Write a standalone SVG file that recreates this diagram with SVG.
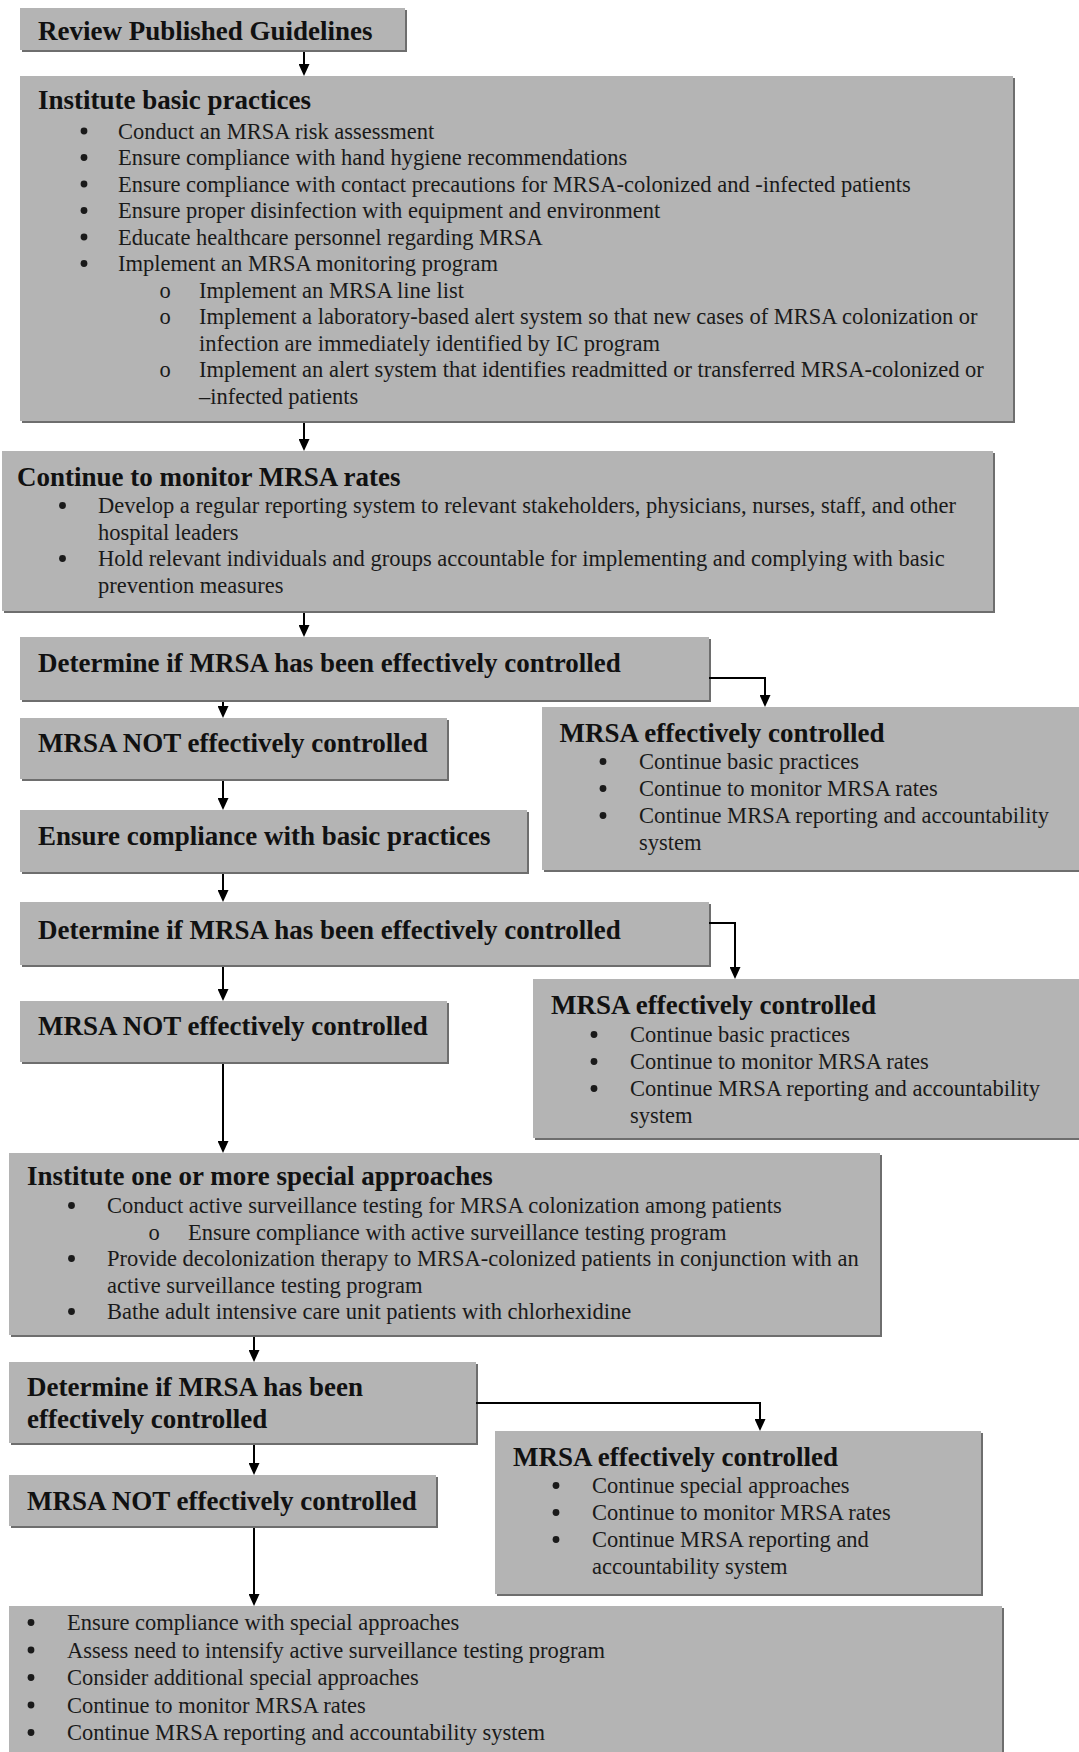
<svg xmlns="http://www.w3.org/2000/svg" width="1079" height="1752" viewBox="0 0 1079 1752">
<defs>
<style>
.sh{fill:#6e6e6e}
.bx{fill:#b4b4b4}
.t{font-family:"Liberation Serif","Times New Roman",serif;font-size:27px;font-weight:bold;fill:#111}
.b{font-family:"Liberation Serif","Times New Roman",serif;font-size:22.5px;fill:#1a1a1a}
.o{font-family:"Liberation Serif","Times New Roman",serif;font-size:22.5px;fill:#1a1a1a;text-anchor:middle}
.dot{fill:#1a1a1a}
.ln{fill:none;stroke:#000;stroke-width:2;marker-end:url(#ah)}
</style>
<marker id="ah" viewBox="0 0 12 11" refX="7" refY="5.5" markerWidth="12" markerHeight="11" markerUnits="userSpaceOnUse" orient="auto">
<path d="M0,0 L12,5.5 L0,11 z" fill="#000"/>
</marker>
</defs>
<rect width="1079" height="1752" fill="#fff"/>

<g id="n1">
<rect class="sh" x="22" y="10" width="385" height="42"/>
<rect class="bx" x="20" y="8" width="385" height="42"/>
<text class="t" x="38" y="40">Review Published Guidelines</text>
</g>

<g id="n2">
<rect class="sh" x="22" y="78" width="993" height="345"/>
<rect class="bx" x="20" y="76" width="993" height="345"/>
<text class="t" x="38" y="109">Institute basic practices</text>
<circle class="dot" cx="84" cy="131" r="3.4"/><text class="b" x="118" y="138.5">Conduct an MRSA risk assessment</text>
<circle class="dot" cx="84" cy="157.5" r="3.4"/><text class="b" x="118" y="165">Ensure compliance with hand hygiene recommendations</text>
<circle class="dot" cx="84" cy="184" r="3.4"/><text class="b" x="118" y="191.5">Ensure compliance with contact precautions for MRSA-colonized and -infected patients</text>
<circle class="dot" cx="84" cy="210.5" r="3.4"/><text class="b" x="118" y="218">Ensure proper disinfection with equipment and environment</text>
<circle class="dot" cx="84" cy="237" r="3.4"/><text class="b" x="118" y="244.5">Educate healthcare personnel regarding MRSA</text>
<circle class="dot" cx="84" cy="263.5" r="3.4"/><text class="b" x="118" y="271">Implement an MRSA monitoring program</text>
<text class="o" x="165" y="297.5">o</text><text class="b" x="199" y="297.5">Implement an MRSA line list</text>
<text class="o" x="165" y="324">o</text><text class="b" x="199" y="324">Implement a laboratory-based alert system so that new cases of MRSA colonization or</text>
<text class="b" x="199" y="350.5">infection are immediately identified by IC program</text>
<text class="o" x="165" y="377">o</text><text class="b" x="199" y="377">Implement an alert system that identifies readmitted or transferred MRSA-colonized or</text>
<text class="b" x="199" y="403.5">–infected patients</text>
</g>

<g id="n3">
<rect class="sh" x="4" y="453" width="991" height="160"/>
<rect class="bx" x="2" y="451" width="991" height="160"/>
<text class="t" x="17" y="486">Continue to monitor MRSA rates</text>
<circle class="dot" cx="62.5" cy="505.5" r="3.4"/><text class="b" x="98" y="513">Develop a regular reporting system to relevant stakeholders, physicians, nurses, staff, and other</text>
<text class="b" x="98" y="539.5">hospital leaders</text>
<circle class="dot" cx="62.5" cy="558.5" r="3.4"/><text class="b" x="98" y="566">Hold relevant individuals and groups accountable for implementing and complying with basic</text>
<text class="b" x="98" y="592.5">prevention measures</text>
</g>

<g id="n4">
<rect class="sh" x="22" y="639" width="689" height="63"/>
<rect class="bx" x="20" y="637" width="689" height="63"/>
<text class="t" x="38" y="672">Determine if MRSA has been effectively controlled</text>
</g>

<g id="n5">
<rect class="sh" x="544" y="709" width="540" height="163"/>
<rect class="bx" x="542" y="707" width="540" height="163"/>
<text class="t" x="559.6" y="742">MRSA effectively controlled</text>
<circle class="dot" cx="603" cy="761.5" r="3.4"/><text class="b" x="639" y="769">Continue basic practices</text>
<circle class="dot" cx="603" cy="788.5" r="3.4"/><text class="b" x="639" y="796">Continue to monitor MRSA rates</text>
<circle class="dot" cx="603" cy="815.5" r="3.4"/><text class="b" x="639" y="823">Continue MRSA reporting and accountability</text>
<text class="b" x="639" y="850">system</text>
</g>

<g id="n6">
<rect class="sh" x="22" y="720" width="427" height="61"/>
<rect class="bx" x="20" y="718" width="427" height="61"/>
<text class="t" x="38" y="752">MRSA NOT effectively controlled</text>
</g>

<g id="n7">
<rect class="sh" x="22" y="812" width="507" height="62"/>
<rect class="bx" x="20" y="810" width="507" height="62"/>
<text class="t" x="38" y="845">Ensure compliance with basic practices</text>
</g>

<g id="n8">
<rect class="sh" x="22" y="904" width="689" height="63"/>
<rect class="bx" x="20" y="902" width="689" height="63"/>
<text class="t" x="38" y="939">Determine if MRSA has been effectively controlled</text>
</g>

<g id="n9">
<rect class="sh" x="535" y="981" width="549" height="159"/>
<rect class="bx" x="533" y="979" width="549" height="159"/>
<text class="t" x="551" y="1014">MRSA effectively controlled</text>
<circle class="dot" cx="594" cy="1034.5" r="3.4"/><text class="b" x="630" y="1042">Continue basic practices</text>
<circle class="dot" cx="594" cy="1061.5" r="3.4"/><text class="b" x="630" y="1069">Continue to monitor MRSA rates</text>
<circle class="dot" cx="594" cy="1088.5" r="3.4"/><text class="b" x="630" y="1096">Continue MRSA reporting and accountability</text>
<text class="b" x="630" y="1123">system</text>
</g>

<g id="n10">
<rect class="sh" x="22" y="1003" width="427" height="61"/>
<rect class="bx" x="20" y="1001" width="427" height="61"/>
<text class="t" x="38" y="1035">MRSA NOT effectively controlled</text>
</g>

<g id="n11">
<rect class="sh" x="11" y="1155" width="871" height="182"/>
<rect class="bx" x="9" y="1153" width="871" height="182"/>
<text class="t" x="27" y="1185">Institute one or more special approaches</text>
<circle class="dot" cx="71.5" cy="1205.5" r="3.4"/><text class="b" x="107" y="1213">Conduct active surveillance testing for MRSA colonization among patients</text>
<text class="o" x="154" y="1239.5">o</text><text class="b" x="188" y="1239.5">Ensure compliance with active surveillance testing program</text>
<circle class="dot" cx="71.5" cy="1258.5" r="3.4"/><text class="b" x="107" y="1266">Provide decolonization therapy to MRSA-colonized patients in conjunction with an</text>
<text class="b" x="107" y="1292.5">active surveillance testing program</text>
<circle class="dot" cx="71.5" cy="1311.5" r="3.4"/><text class="b" x="107" y="1319">Bathe adult intensive care unit patients with chlorhexidine</text>
</g>

<g id="n12">
<rect class="sh" x="11" y="1364" width="467" height="81"/>
<rect class="bx" x="9" y="1362" width="467" height="81"/>
<text class="t" x="27" y="1396">Determine if MRSA has been</text>
<text class="t" x="27" y="1428">effectively controlled</text>
</g>

<g id="n13">
<rect class="sh" x="497" y="1433" width="486" height="163"/>
<rect class="bx" x="495" y="1431" width="486" height="163"/>
<text class="t" x="513" y="1466">MRSA effectively controlled</text>
<circle class="dot" cx="556" cy="1485.5" r="3.4"/><text class="b" x="592" y="1493">Continue special approaches</text>
<circle class="dot" cx="556" cy="1512.5" r="3.4"/><text class="b" x="592" y="1520">Continue to monitor MRSA rates</text>
<circle class="dot" cx="556" cy="1539.5" r="3.4"/><text class="b" x="592" y="1547">Continue MRSA reporting and</text>
<text class="b" x="592" y="1574">accountability system</text>
</g>

<g id="n14">
<rect class="sh" x="11" y="1477" width="427" height="51"/>
<rect class="bx" x="9" y="1475" width="427" height="51"/>
<text class="t" x="27" y="1510">MRSA NOT effectively controlled</text>
</g>

<g id="n15">
<rect class="sh" x="11" y="1608" width="993" height="160"/>
<rect class="bx" x="9" y="1606" width="993" height="160"/>
<circle class="dot" cx="31" cy="1622.5" r="3.4"/><text class="b" x="67" y="1630">Ensure compliance with special approaches</text>
<circle class="dot" cx="31" cy="1650" r="3.4"/><text class="b" x="67" y="1657.5">Assess need to intensify active surveillance testing program</text>
<circle class="dot" cx="31" cy="1677.5" r="3.4"/><text class="b" x="67" y="1685">Consider additional special approaches</text>
<circle class="dot" cx="31" cy="1705" r="3.4"/><text class="b" x="67" y="1712.5">Continue to monitor MRSA rates</text>
<circle class="dot" cx="31" cy="1732.5" r="3.4"/><text class="b" x="67" y="1740">Continue MRSA reporting and accountability system</text>
</g>

<g id="connectors">
<path class="ln" d="M304,52 V71"/>
<path class="ln" d="M304,423 V446"/>
<path class="ln" d="M304,613 V632"/>
<path class="ln" d="M709,678 H765 V702"/>
<path class="ln" d="M223,702 V713"/>
<path class="ln" d="M223,781 V805"/>
<path class="ln" d="M223,874 V897"/>
<path class="ln" d="M709,923 H735 V974"/>
<path class="ln" d="M223,967 V996"/>
<path class="ln" d="M223,1064 V1148"/>
<path class="ln" d="M254,1337 V1357"/>
<path class="ln" d="M476,1403 H760 V1426"/>
<path class="ln" d="M254,1445 V1470"/>
<path class="ln" d="M254,1528 V1601"/>
</g>
</svg>
